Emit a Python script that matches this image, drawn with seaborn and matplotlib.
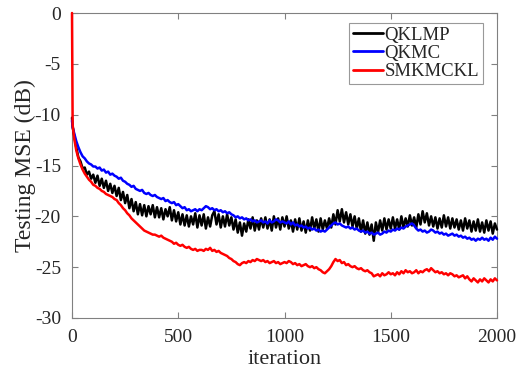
import numpy as np
import pandas as pd
import matplotlib
matplotlib.use("Agg")
import matplotlib.pyplot as plt
import seaborn as sns

# iteration index: 0, 3, then every 10 iterations
iterations = [0, 3] + list(range(10, 2001, 10))

qklmp = [-10.3, -11.2,
    -12.0, -13.2, -14.2, -14.6, -15.3, -15.2, -15.9, -15.6, -16.3, -15.9,
    -16.7, -16.0, -17.0, -16.3, -17.2, -16.5, -17.5, -16.8, -17.7, -17.0,
    -18.0, -17.2, -18.4, -17.6, -18.7, -17.9, -19.2, -18.3, -19.5, -18.6,
    -19.8, -18.8, -19.9, -18.9, -20.0, -19.0, -19.8, -18.9, -20.1, -19.1,
    -20.1, -19.2, -20.3, -19.3, -20.0, -19.1, -20.4, -19.4, -20.5, -19.6,
    -20.8, -19.8, -20.9, -19.9, -21.0, -20.0, -20.8, -19.7, -21.1, -19.9,
    -20.9, -19.8, -21.2, -20.1, -21.0, -19.9, -19.5, -20.8, -19.8, -21.1,
    -20.0, -21.0, -19.8, -20.9, -20.1, -21.3, -20.3, -21.6, -20.6, -21.9,
    -20.7, -21.5, -20.3, -21.2, -20.1, -21.4, -20.4, -21.3, -20.2, -21.1,
    -20.1, -21.2, -20.3, -21.4, -20.0, -21.1, -20.2, -21.3, -20.1, -21.0,
    -20.0, -21.2, -20.4, -21.5, -20.3, -21.3, -20.2, -21.4, -20.5, -21.6,
    -20.4, -21.4, -20.1, -21.2, -20.3, -21.5, -20.2, -21.3, -20.4, -21.2,
    -20.2, -21.1, -19.8, -20.8, -19.4, -20.5, -19.3, -20.6, -19.6, -20.8,
    -19.8, -21.0, -20.0, -21.2, -20.2, -21.5, -20.4, -21.7, -20.6, -21.8,
    -20.8, -22.4, -20.6, -21.6, -20.4, -21.4, -20.2, -21.3, -20.3, -21.2,
    -20.1, -21.2, -20.3, -21.3, -20.0, -21.1, -20.2, -21.0, -19.9, -20.9,
    -20.1, -21.1, -19.8, -20.8, -19.5, -20.6, -19.7, -20.9, -20.0, -21.0,
    -20.1, -21.2, -20.2, -21.1, -19.9, -21.0, -20.1, -21.2, -20.2, -21.1,
    -20.3, -21.3, -20.4, -21.4, -20.2, -21.2, -20.4, -21.5, -20.5, -21.4,
    -20.3, -21.5, -20.6, -21.6, -20.4, -21.4, -20.5, -21.7, -20.7, -21.3]

qkmc = [-10.6, -11.2,
    -11.8, -12.6, -13.2, -13.7, -14.1, -14.3, -14.6, -14.8, -14.9, -15.1,
    -15.1, -15.3, -15.2, -15.5, -15.4, -15.7, -15.6, -15.9, -15.8, -16.0,
    -16.1, -16.3, -16.2, -16.5, -16.6, -16.8, -16.9, -17.1, -17.0, -17.3,
    -17.4, -17.5, -17.4, -17.7, -17.8, -17.7, -17.9, -18.0, -17.9, -18.1,
    -18.2, -18.3, -18.2, -18.5, -18.4, -18.6, -18.7, -18.6, -18.9, -18.8,
    -19.0, -19.2, -19.1, -19.4, -19.3, -19.5, -19.4, -19.3, -19.5, -19.3,
    -19.4, -19.2, -19.0, -19.1, -19.3, -19.2, -19.4, -19.3, -19.5, -19.4,
    -19.6, -19.5, -19.7, -19.6, -19.8, -19.9, -20.1, -20.0, -20.2, -20.1,
    -20.3, -20.2, -20.4, -20.3, -20.5, -20.4, -20.6, -20.5, -20.4, -20.6,
    -20.5, -20.7, -20.4, -20.6, -20.5, -20.3, -20.4, -20.6, -20.5, -20.6,
    -20.7, -20.5, -20.8, -20.6, -20.9, -20.8, -21.0, -20.9, -21.1, -21.0,
    -21.2, -21.1, -21.3, -21.2, -21.4, -21.3, -21.5, -21.4, -21.5, -21.3,
    -21.1, -20.9, -20.7, -20.6, -20.8, -20.7, -20.9, -21.0, -21.1, -21.0,
    -21.2, -21.1, -21.3, -21.2, -21.4, -21.5, -21.4, -21.6, -21.5, -21.7,
    -21.6, -21.8, -21.7, -21.6, -21.8, -21.7, -21.5, -21.6, -21.4, -21.5,
    -21.3, -21.4, -21.2, -21.3, -21.1, -21.2, -21.0, -20.9, -20.8, -20.7,
    -20.9, -21.2, -21.4, -21.3, -21.5, -21.4, -21.6, -21.5, -21.3, -21.4,
    -21.6, -21.5, -21.7, -21.6, -21.8, -21.7, -21.9, -21.8, -21.7, -21.9,
    -21.8, -22.0, -21.9, -22.1, -22.0, -22.2, -22.1, -22.3, -22.2, -22.4,
    -22.2, -22.3, -22.1, -22.3, -22.2, -22.4, -22.1, -22.3, -22.0, -22.2]

smkmckl = [0.0, -11.0,
    -12.3, -13.5, -14.3, -14.9, -15.4, -15.8, -16.1, -16.4, -16.6, -16.9,
    -17.0, -17.2, -17.3, -17.5, -17.6, -17.8, -17.9, -18.0, -18.1, -18.3,
    -18.4, -18.7, -18.9, -19.2, -19.4, -19.7, -19.9, -20.2, -20.4, -20.6,
    -20.8, -21.0, -21.2, -21.4, -21.5, -21.6, -21.7, -21.8, -21.8, -21.9,
    -22.0, -21.9, -22.1, -22.2, -22.3, -22.4, -22.5, -22.7, -22.6, -22.8,
    -22.9, -22.8, -23.0, -23.1, -23.0, -23.2, -23.3, -23.2, -23.4, -23.3,
    -23.3, -23.4, -23.2, -23.3, -23.1, -23.4, -23.3, -23.5, -23.4, -23.6,
    -23.7, -23.8, -23.9, -24.1, -24.2, -24.4, -24.5, -24.7, -24.8, -24.6,
    -24.5, -24.6, -24.4, -24.5, -24.3, -24.4, -24.2, -24.3, -24.4, -24.3,
    -24.5, -24.4, -24.6, -24.5, -24.4, -24.6, -24.5, -24.7, -24.6, -24.5,
    -24.6, -24.4, -24.5, -24.7, -24.6, -24.8, -24.7, -24.9, -24.8, -24.7,
    -24.9, -25.0, -24.9, -25.1, -25.0, -25.2, -25.3, -25.5, -25.6, -25.4,
    -25.2, -24.9, -24.5, -24.2, -24.4, -24.3, -24.6, -24.5, -24.8, -24.7,
    -24.9, -25.0, -24.9, -25.1, -25.2, -25.1, -25.3, -25.4, -25.3, -25.5,
    -25.6, -25.9, -25.8, -25.7, -25.9, -25.6, -25.8, -25.7, -25.5, -25.7,
    -25.6, -25.8, -25.5, -25.7, -25.4, -25.6, -25.3, -25.5, -25.4, -25.6,
    -25.5, -25.3, -25.6, -25.4, -25.5, -25.3, -25.2, -25.4, -25.1, -25.3,
    -25.5, -25.4, -25.6, -25.5, -25.7, -25.6, -25.8, -25.6, -25.7, -25.9,
    -25.8, -26.0, -25.9, -25.8, -26.1, -25.9, -26.2, -26.4, -26.1, -26.3,
    -26.5, -26.2, -26.4, -26.1, -26.3, -26.5, -26.2, -26.4, -26.1, -26.3]

series_names = ["QKLMP", "QKMC", "SMKMCKL"]
colors = ["#000000", "#0000ff", "#ff0000"]
x_ticks = [0, 500, 1000, 1500, 2000]
y_ticks = [0, -5, -10, -15, -20, -25, -30]

frames = []
for name, vals in zip(series_names, [qklmp, qkmc, smkmckl]):
    frames.append(pd.DataFrame({"iteration": iterations, "mse": vals, "method": name}))
df = pd.concat(frames, ignore_index=True)

sns.set_style("ticks")
plt.rcParams["font.family"] = ["Liberation Serif", "DejaVu Serif"]
plt.rcParams["axes.unicode_minus"] = False

fig = plt.figure(figsize=(5.19, 3.70), dpi=100)
ax = fig.add_axes([72 / 519, 52 / 370, 425 / 519, 305 / 370])

sns.lineplot(data=df, x="iteration", y="mse", hue="method",
             palette=dict(zip(series_names, colors)), linewidth=1.8,
             ax=ax, estimator=None, sort=False)
for ln in ax.get_lines():
    ln.set_zorder(3)
    ln.set_clip_on(False)

ax.set_xlim(0, 2000)
ax.set_ylim(-30, 0)
ax.set_xticks(x_ticks)
ax.set_yticks(y_ticks)
ax.set_xlabel("iteration", fontsize=16, labelpad=3, color="#262626")
ax.set_ylabel("Testing MSE (dB)", fontsize=17, labelpad=-1, color="#262626")
ax.tick_params(direction="in", top=True, right=True, length=4,
               color="#808080", labelsize=14, labelcolor="#262626", pad=8)
for s in ax.spines.values():
    s.set_color("#808080")
    s.set_linewidth(0.8)

leg = ax.legend(loc="upper right", bbox_to_anchor=(0.967, 0.967),
                fontsize=13.5, frameon=True, fancybox=False,
                handlelength=1.6, handletextpad=0.1, borderpad=0.2,
                labelspacing=0.05, borderaxespad=0)
leg.get_frame().set_edgecolor("#808080")
leg.get_frame().set_linewidth(0.8)
for line in leg.get_lines():
    line.set_linewidth(2.0)

fig.savefig("out.png", dpi=100)
